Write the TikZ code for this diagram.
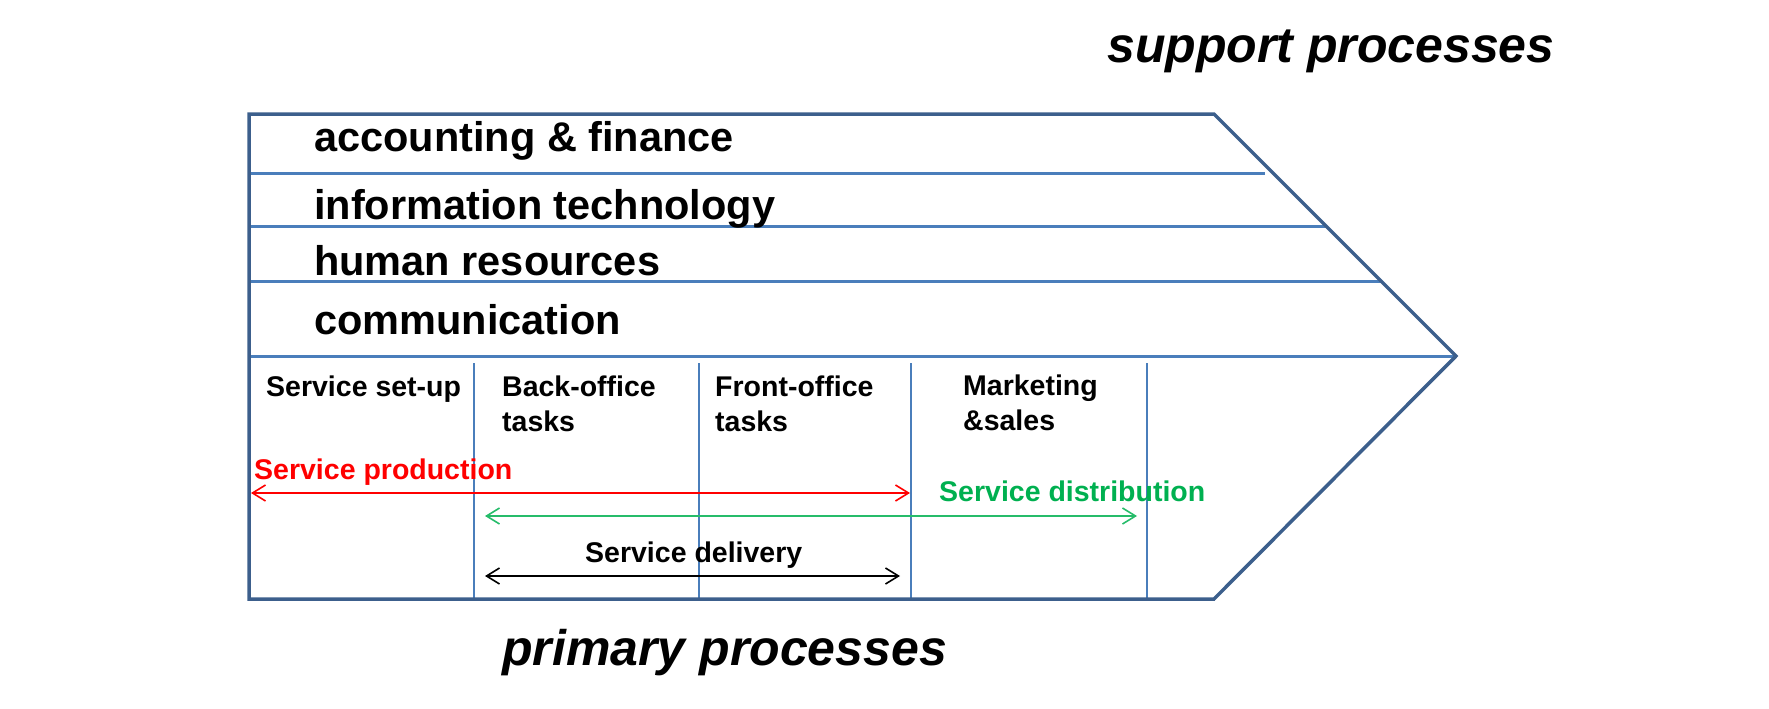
\documentclass[tikz,border=0pt]{standalone}
\usepackage{fontspec}
\setmainfont{Liberation Sans}
\usetikzlibrary{arrows.meta}
\definecolor{outl}{HTML}{3C5F8C}
\definecolor{inl}{HTML}{4A7EBB}
\definecolor{redc}{HTML}{FF0000}
\definecolor{greenc}{HTML}{00B050}
\begin{document}
\begin{tikzpicture}[x=1pt,y=-1pt,
  title/.style={inner sep=0pt,anchor=base west,font=\fontsize{50}{60}\selectfont\bfseries\itshape},
  sup/.style={inner sep=0pt,anchor=base west,font=\fontsize{41.5}{50}\selectfont\bfseries},
  prim/.style={inner sep=0pt,anchor=base west,font=\fontsize{28.5}{34}\selectfont\bfseries},
  outline/.style={draw=outl,line width=3.5pt,line join=miter},
  inner/.style={draw=inl,line width=3pt},
  arr/.style={line width=1.6pt,{Straight Barb[length=13pt,width=16pt]}-{Straight Barb[length=13pt,width=16pt]}}
]
\useasboundingbox (0,0) rectangle (1769,709);
% outline chevron
\coordinate (tl) at (249,114);
\coordinate (tr) at (1214,114);
\coordinate (tip) at (1456,356);
\coordinate (br) at (1214,599);
\coordinate (bl) at (249,599);
% support lines
\coordinate (l1a) at (249,173); \coordinate (l1b) at (1265,173);
\coordinate (l2a) at (249,226); \coordinate (l2b) at (1326,226);
\coordinate (l3a) at (249,281); \coordinate (l3b) at (1381,281);
\coordinate (l4a) at (249,356);
\draw[inner] (l1a) -- (l1b);
\draw[inner] (l2a) -- (l2b);
\draw[inner] (l3a) -- (l3b);
\draw[inner] (l4a) -- (tip);
% vertical dividers
\foreach \n/\x in {v1/474,v2/699,v3/911,v4/1147}{
  \coordinate (\n t) at (\x,363);
  \coordinate (\n b) at (\x,599);
  \draw[inner,line width=2.5pt] (\n t) -- (\n b);
}
\draw[outline] (tl) -- (tr) -- (tip) -- (br) -- (bl) -- cycle;
% titles
\node[title] (supt) at (1107,63) {support processes};
\node[title] (primt) at (502,665) {primary processes};
% support processes
\node[sup] (acc) at (314,151) {accounting \& finance};
\node[sup] (it) at (314,219) {information technology};
\node[sup] (hr) at (314,275) {human resources};
\node[sup] (com) at (314,334) {communication};
% primary processes
\node[prim] (setup) at (266,396) {Service set-up};
\node[prim] (back1) at (502,396) {Back-office};
\node[prim] (back2) at (502,431) {tasks};
\node[prim] (front1) at (715,396) {Front-office};
\node[prim] (front2) at (715,431) {tasks};
\node[prim] (mark1) at (963,395) {Marketing};
\node[prim] (mark2) at (963,430) {\&sales};
% arrows
\node[prim,text=redc] (prodl) at (254,479) {Service production};
\node[prim,text=greenc] (distl) at (939,501) {Service distribution};
\node[prim] (dell) at (585,562) {Service delivery};
\coordinate (pa) at (251,493); \coordinate (pb) at (910,493);
\coordinate (da) at (485,516); \coordinate (db) at (1137,516);
\coordinate (ea) at (485,576); \coordinate (eb) at (900,576);
\draw[arr,draw=redc] (pa) -- (pb);
\draw[arr,draw=greenc!85!white] (da) -- (db);
\draw[arr,draw=black] (ea) -- (eb);
\end{tikzpicture}
\end{document}
